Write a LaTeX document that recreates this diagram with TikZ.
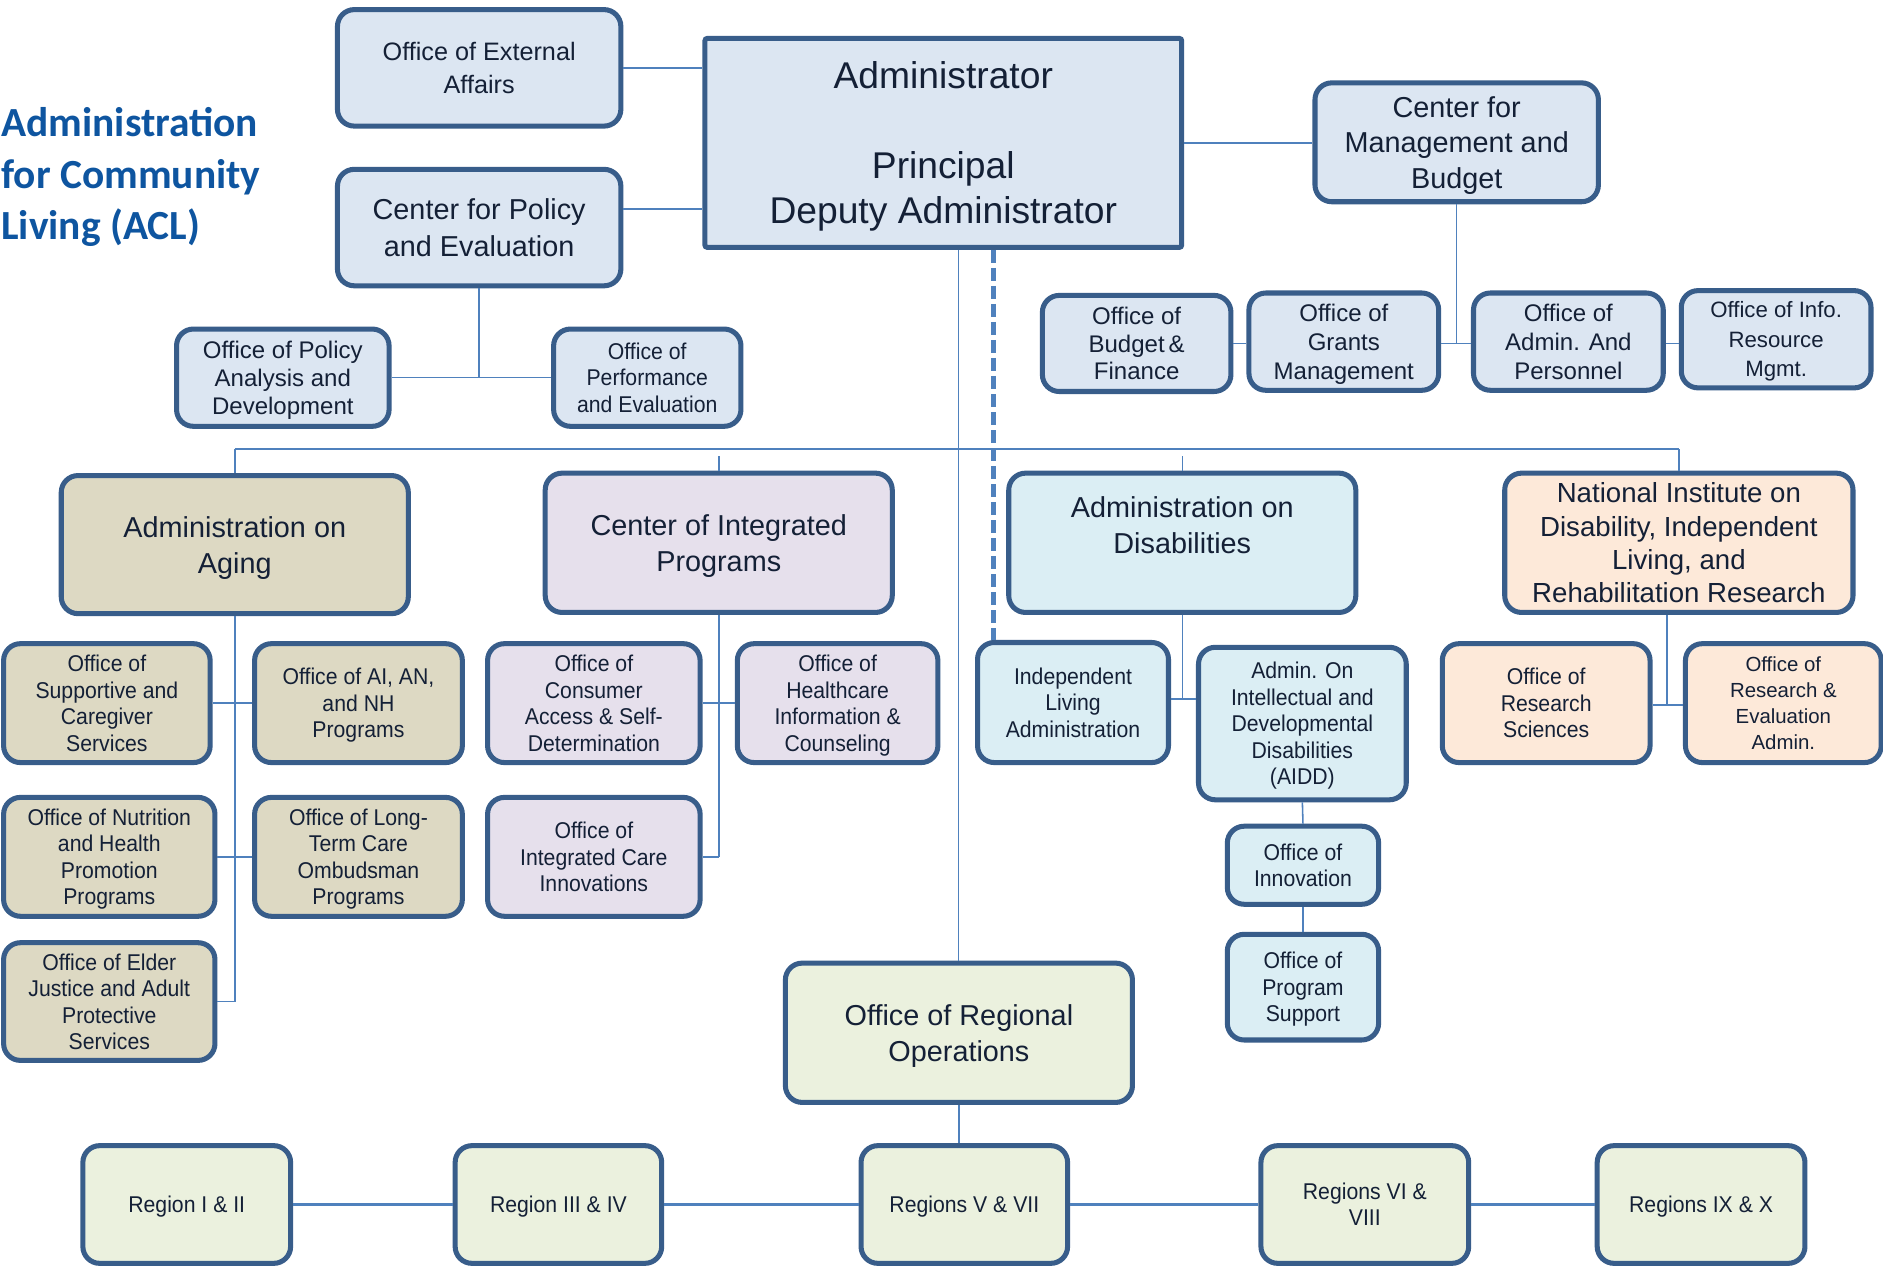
\documentclass[tikz,border=0pt]{standalone}
\usepackage{fontspec}
\setmainfont{Liberation Sans}
\newfontfamily\nar{Liberation Sans}[FakeStretch=0.93]
\newfontfamily\ttl{Carlito}
\definecolor{cBorder}{RGB}{56,93,138}
\definecolor{cLine}{RGB}{79,129,189}
\definecolor{cText}{RGB}{20,32,54}
\definecolor{cTitle}{RGB}{14,85,160}
\definecolor{cBlue}{RGB}{220,230,242}
\definecolor{cTan}{RGB}{221,217,195}
\definecolor{cLav}{RGB}{230,224,236}
\definecolor{cCyan}{RGB}{219,238,244}
\definecolor{cPeach}{RGB}{253,233,217}
\definecolor{cGreen}{RGB}{235,241,222}
\newcommand\fsz[2]{\fontsize{#1pt}{#2pt}\selectfont}
\begin{document}
\begin{tikzpicture}[x=1pt,y=-1pt,
  box/.style={draw=cBorder, line width=4.2pt, rounded corners=14pt, align=center, inner sep=0pt, text=cText, text depth=0pt},
  conn/.style={draw=cLine, line width=1.3pt},
  rconn/.style={draw=cLine, line width=2.4pt},
  dconn/.style={draw=cLine, line width=4pt, dash pattern=on 11pt off 4pt},
  nfont/.style={font=\nar\fsz{19}{22}}]
\fill[white] (0,0) rectangle (1568,1056);
\useasboundingbox (0,0) rectangle (1568,1056);

% title
\node[anchor=west, align=left, inner sep=0pt, text=cTitle, font=\ttl\bfseries\fsz{34.5}{43}] (title) at (1,147.5) {Administration\\for Community\\Living (ACL)};

% top level
\node[box, fill=cBlue, minimum width=236pt, minimum height=97pt, font=\fsz{21}{27}] (ext) at (399,56.5) {Office of External\\Affairs};
\node[box, fill=cBlue, rounded corners=2pt, minimum width=397pt, minimum height=174pt, font=\fsz{31}{37.5}] (adm) at (785.5,119) {Administrator\\[37.5pt]Principal\\Deputy Administrator};
\node[box, fill=cBlue, minimum width=236pt, minimum height=97pt, font=\fsz{24}{30}] (cpe) at (399,189.5) {Center for Policy\\and Evaluation};
\node[box, fill=cBlue, minimum width=236pt, minimum height=99pt, font=\fsz{24}{29.5}] (cmb) at (1213,118.5) {Center for\\Management and\\Budget};
\node[box, fill=cBlue, minimum width=177pt, minimum height=81pt, font=\fsz{20}{23.5}] (opad) at (235.5,314.5) {Office of Policy\\Analysis and\\Development};
\node[box, fill=cBlue, minimum width=156pt, minimum height=81pt, nfont] (ope) at (539,314.5) {Office of\\Performance\\and Evaluation};
\node[box, fill=cBlue, minimum width=157pt, minimum height=80pt, font=\fsz{20}{23}] (obf) at (946.5,286) {Office of\\Budget\,\&\\Finance};
\node[box, fill=cBlue, minimum width=158pt, minimum height=81pt, font=\fsz{20}{24}] (ogm) at (1119,284.5) {Office of\\Grants\\Management};
\node[box, fill=cBlue, minimum width=158pt, minimum height=81pt, font=\fsz{20}{24}] (oap) at (1306,284.5) {Office of\\Admin. And\\Personnel};
\node[box, fill=cBlue, minimum width=158pt, minimum height=81pt, font=\fsz{18.5}{24.5}] (oirm) at (1479,282.5) {Office of Info.\\Resource\\Mgmt.};

% second level
\node[box, fill=cTan, minimum width=289pt, minimum height=115pt, font=\fsz{24}{30}] (aoa) at (195.5,453.5) {Administration on\\Aging};
\node[box, fill=cLav, minimum width=289pt, minimum height=116pt, font=\fsz{24}{30}] (cip) at (598.5,452) {Center of Integrated\\Programs};
\node[box, fill=cCyan, minimum width=289pt, minimum height=116pt, font=\fsz{24}{30}] (aod) at (984.5,452) {Administration on\\Disabilities\\\mbox{}};
\node[box, fill=cPeach, minimum width=290pt, minimum height=116pt, font=\fsz{23}{27.7}] (nid) at (1398,452) {National Institute on\\Disability, Independent\\Living, and\\Rehabilitation Research};

% aging children
\node[box, fill=cTan, minimum width=172pt, minimum height=99pt, nfont] (osc) at (89,585.5) {Office of\\Supportive and\\Caregiver\\Services};
\node[box, fill=cTan, minimum width=173pt, minimum height=99pt, nfont] (oai) at (298.5,585.5) {Office of AI, AN,\\and NH\\Programs};
\node[box, fill=cTan, minimum width=176pt, minimum height=99pt, nfont] (onh) at (91,713.5) {Office of Nutrition\\and Health\\Promotion\\Programs};
\node[box, fill=cTan, minimum width=173pt, minimum height=99pt, nfont] (oltc) at (298.5,713.5) {Office of Long-\\Term Care\\Ombudsman\\Programs};
\node[box, fill=cTan, minimum width=176pt, minimum height=98pt, nfont] (oej) at (91,834) {Office of Elder\\Justice and Adult\\Protective\\Services};

% CIP children
\node[box, fill=cLav, minimum width=177pt, minimum height=99pt, nfont] (oca) at (494.5,585.5) {Office of\\Consumer\\Access \& Self-\\Determination};
\node[box, fill=cLav, minimum width=167pt, minimum height=99pt, nfont] (ohi) at (697.5,585.5) {Office of\\Healthcare\\Information \&\\Counseling};
\node[box, fill=cLav, minimum width=177pt, minimum height=99pt, nfont] (oic) at (494.5,713.5) {Office of\\Integrated Care\\Innovations};

% AoD children
\node[box, fill=cCyan, minimum width=159pt, minimum height=100pt, nfont] (ila) at (893.5,585) {Independent\\Living\\Administration};
\node[box, fill=cCyan, minimum width=173pt, minimum height=127pt, nfont] (aidd) at (1084.5,602.5) {Admin. On\\Intellectual and\\Developmental\\Disabilities\\(AIDD)};
\node[box, fill=cCyan, minimum width=126pt, minimum height=65pt, nfont] (oinn) at (1085,720.5) {Office of\\Innovation};
\node[box, fill=cCyan, minimum width=126pt, minimum height=88pt, nfont] (ops) at (1085,822) {Office of\\Program\\Support};

% NIDILRR children
\node[box, fill=cPeach, minimum width=173pt, minimum height=99pt, nfont] (ors) at (1287.5,585.5) {Office of\\Research\\Sciences};
\node[box, fill=cPeach, minimum width=163pt, minimum height=99pt, font=\fsz{17}{21.7}] (orea) at (1485,585.5) {Office of\\Research \&\\Evaluation\\Admin.};

% regional
\node[box, fill=cGreen, minimum width=289pt, minimum height=116pt, font=\fsz{24}{30}] (oro) at (798.5,860) {Office of Regional\\Operations};
\node[box, fill=cGreen, minimum width=173pt, minimum height=98pt, nfont] (r12) at (155.5,1003) {Region I \& II};
\node[box, fill=cGreen, minimum width=172pt, minimum height=98pt, nfont] (r34) at (465,1003) {Region III \& IV};
\node[box, fill=cGreen, minimum width=172pt, minimum height=98pt, nfont] (r57) at (803,1003) {Regions V \& VII};
\node[box, fill=cGreen, minimum width=173pt, minimum height=98pt, nfont] (r68) at (1136.5,1003) {Regions VI \&\\VIII};
\node[box, fill=cGreen, minimum width=173pt, minimum height=98pt, nfont] (r910) at (1416.5,1003) {Regions IX \& X};

% helper coordinates
\coordinate (y174) at (0,174);
\coordinate (hb) at (1213,286);
\coordinate (vx) at (798,0);
\coordinate (dx) at (827,0);
\coordinate (bus) at (0,374);
\coordinate (tk) at (0,380);
\coordinate (y582) at (0,582);
\coordinate (nx) at (1388,587);

% top connectors
\draw[conn] (ext.east) -- (ext.east -| adm.west);
\draw[conn] (cpe.east |- y174) -- (adm.west |- y174);
\draw[conn] (adm.east) -- (adm.east -| cmb.west);
\draw[conn] (cmb.south) -- (cmb.south |- hb);
\draw[conn] (obf.east |- hb) -- (ogm.west |- hb);
\draw[conn] (ogm.east |- hb) -- (oap.west |- hb);
\draw[conn] (oap.east |- hb) -- (oirm.west |- hb);
\draw[conn] (cpe.south) -- (cpe.south |- opad.east);
\draw[conn] (opad.east) -- (ope.west);

% main verticals
\draw[conn] (adm.south -| vx) -- (oro.north -| vx);
\draw[dconn] (adm.south -| dx) -- (ila.north -| dx);

% bus
\draw[conn] (aoa.north |- bus) -- (nid.north |- bus);
\draw[conn] (aoa.north |- bus) -- (aoa.north);
\draw[conn] (nid.north |- bus) -- (nid.north);
\draw[conn] (cip.north |- tk) -- (cip.north);
\draw[conn] (aod.north |- tk) -- (aod.north);

% aging
\draw[conn] (aoa.south) -- (aoa.south |- oej.east);
\draw[conn] (osc.east) -- (oai.west);
\draw[conn] (onh.east) -- (oltc.west);
\draw[conn] (oej.east) -- (oej.east -| aoa.south);

% CIP
\draw[conn] (cip.south) -- (cip.south |- oic.east);
\draw[conn] (oca.east) -- (ohi.west);
\draw[conn] (oic.east) -- (oic.east -| cip.south);

% AoD
\draw[conn] (aod.south) -- (aod.south |- y582);
\draw[conn] (ila.east |- y582) -- (aidd.west |- y582);
\draw[conn] (aidd.south) -- (oinn.north);
\draw[conn] (oinn.south) -- (ops.north);

% NIDILRR
\draw[conn] (nid.south -| nx) -- (nx);
\draw[conn] (ors.east |- nx) -- (orea.west |- nx);

% regions
\draw[conn] (oro.south) -- (oro.south |- r57.north);
\draw[rconn] (r12.east) -- (r34.west);
\draw[rconn] (r34.east) -- (r57.west);
\draw[rconn] (r57.east) -- (r68.west);
\draw[rconn] (r68.east) -- (r910.west);
\end{tikzpicture}
\end{document}
